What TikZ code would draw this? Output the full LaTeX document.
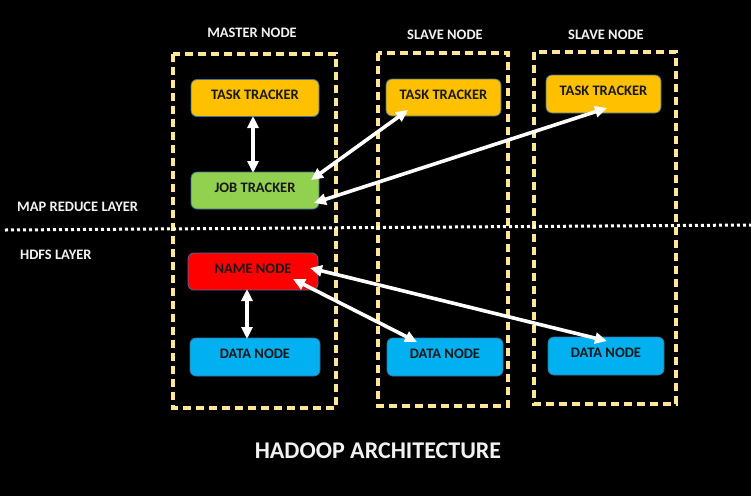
\documentclass[tikz,border=0pt]{standalone}
\usepackage{fontspec}
\setmainfont{Carlito}[BoldFont={Carlito Bold}]
\usetikzlibrary{arrows.meta}
\definecolor{ttc}{HTML}{FFC000}
\definecolor{jtc}{HTML}{92D050}
\definecolor{nnc}{HTML}{FF0000}
\definecolor{dnc}{HTML}{00B0F0}
\definecolor{edgec}{HTML}{41719C}
\definecolor{dashc}{HTML}{FFE699}
\tikzset{
  comp/.style={draw=edgec, line width=0.8pt, rounded corners=6pt, inner sep=0pt, text depth=6pt,
    font=\bfseries\fontsize{14.5}{16}\selectfont, text=black!90},
  nodebox/.style={draw=dashc, line width=3.2pt, dash pattern=on 8pt off 5pt},
  lbl/.style={font=\bfseries\fontsize{14.5}{16}\selectfont, text=white!95!black, inner sep=0pt},
  link/.style={draw=white, line width=3.6pt, {Triangle[length=12pt,width=11pt]}-{Triangle[length=12pt,width=11pt]}},
}
\begin{document}
\begin{tikzpicture}[x=1pt,y=-1pt]
\fill[black] (0,0) rectangle (751,496);
\useasboundingbox (0,0) rectangle (751,496);
% dashed node boxes
\draw[nodebox] (173,54) rectangle (336,408);
\draw[nodebox] (378,53) rectangle (508,406);
\draw[nodebox] (534,52) rectangle (676,404);
% headings
\node[lbl] (hm) at (252,33) {MASTER NODE};
\node[lbl] (hs1) at (445,35) {SLAVE NODE};
\node[lbl] (hs2) at (606,35) {SLAVE NODE};
\node[lbl, anchor=west] (mrl) at (17,207) {MAP REDUCE LAYER};
\node[lbl, anchor=west] (hdl) at (20,255) {HDFS LAYER};
\node[font=\bfseries\fontsize{24}{27}\selectfont, text=white!95!black, inner sep=0pt] (title) at (378,451) {HADOOP ARCHITECTURE};
% layer separator
\draw[white, line width=3pt, dash pattern=on 3pt off 3pt] (5,230) -- (751,225);
% components
\node[comp, fill=ttc, minimum width=128pt, minimum height=37pt] (mtt) at (255,98) {TASK TRACKER};
\node[comp, fill=jtc, minimum width=128pt, minimum height=37pt] (jt) at (255,190.5) {JOB TRACKER};
\node[comp, fill=ttc, minimum width=115pt, minimum height=37pt] (stt1) at (443.5,97.5) {TASK TRACKER};
\node[comp, fill=ttc, minimum width=115pt, minimum height=38pt] (stt2) at (603.5,94) {TASK TRACKER};
\node[comp, fill=nnc, minimum width=130pt, minimum height=37pt] (nn) at (253,271.5) {NAME NODE};
\node[comp, fill=dnc, minimum width=130pt, minimum height=38pt] (mdn) at (255,357) {DATA NODE};
\node[comp, fill=dnc, minimum width=116pt, minimum height=38pt] (sdn1) at (445,357) {DATA NODE};
\node[comp, fill=dnc, minimum width=116pt, minimum height=38pt] (sdn2) at (606,356) {DATA NODE};
% connector end points
\coordinate (mttb) at (253,116);
\coordinate (jtt) at (253,173);
\coordinate (jta) at (311,180);
\coordinate (jtb) at (314,203);
\coordinate (s1a) at (408,110);
\coordinate (s2a) at (607,108);
\coordinate (nnb) at (247,289);
\coordinate (mdnt) at (247,339);
\coordinate (nna) at (293,279);
\coordinate (nnc2) at (310,268);
\coordinate (d1a) at (417,342);
\coordinate (d2a) at (607,341);
% connectors
\draw[link] (mttb) -- (jtt);
\draw[link] (jta) -- (s1a);
\draw[link] (jtb) -- (s2a);
\draw[link] (nnb) -- (mdnt);
\draw[link] (nna) -- (d1a);
\draw[link] (nnc2) -- (d2a);
\end{tikzpicture}
\end{document}
